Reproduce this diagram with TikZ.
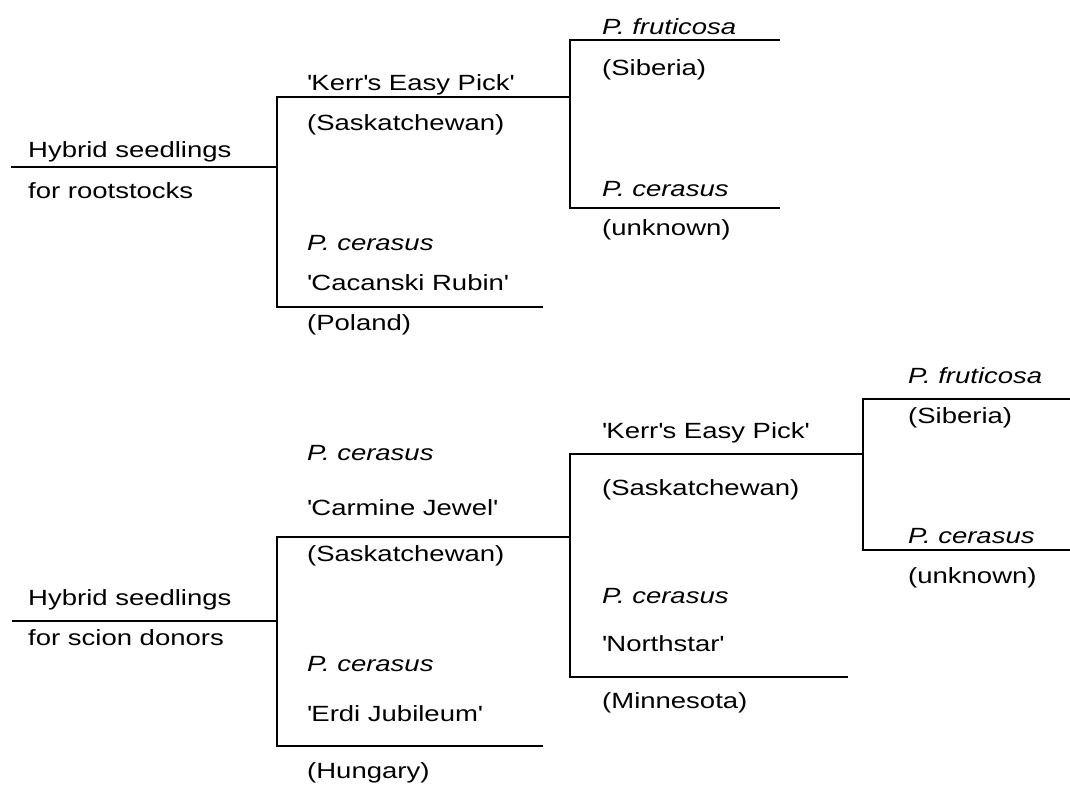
\documentclass[tikz,border=0pt]{standalone}
\usepackage{fontspec}
\setmainfont{Liberation Sans}[FakeStretch=1.25]
\newcommand{\cv}[1]{\textquotesingle#1\textquotesingle}
\begin{document}
\begin{tikzpicture}[x=1pt,y=-1pt,font=\fontsize{22}{26}\selectfont,
    lbl/.style={anchor=west,inner sep=0pt,text height=16pt,text depth=0pt},
    branch/.style={line width=1.3pt}]
    \useasboundingbox (0,0) rectangle (1070,784);
    \coordinate (ra) at (11,167);
    \coordinate (fa) at (277,167);
    \coordinate (ka) at (277,97);
    \coordinate (kae) at (570,97);
    \coordinate (ca) at (277,307);
    \coordinate (cae) at (543,307);
    \coordinate (pa) at (570,40);
    \coordinate (pae) at (780,40);
    \coordinate (ua) at (570,208);
    \coordinate (uae) at (780,208);
    \draw[branch] (ra) -- (fa);
    \draw[branch] (cae) -- (ca) -- (ka) -- (kae);
    \draw[branch] (pae) -- (pa) -- (ua) -- (uae);
    \node[lbl] (ha) at (28,149) {Hybrid seedlings};
    \node[lbl] (hb) at (28,190) {for rootstocks};
    \node[lbl] (kp) at (307,82) {\cv{Kerr\textquotesingle s Easy Pick}};
    \node[lbl] (ks) at (307,122) {(Saskatchewan)};
    \node[lbl] (cp) at (307,242) {\textit{P. cerasus}};
    \node[lbl] (cr) at (307,282) {\cv{Cacanski Rubin}};
    \node[lbl] (cl) at (307,322) {(Poland)};
    \node[lbl] (pf) at (602,27) {\textit{P. fruticosa}};
    \node[lbl] (ps) at (602,67) {(Siberia)};
    \node[lbl] (up) at (602,188) {\textit{P. cerasus}};
    \node[lbl] (uu) at (602,227) {(unknown)};
    \coordinate (rb) at (12,621);
    \coordinate (fb) at (277,621);
    \coordinate (jb) at (277,537);
    \coordinate (jbe) at (570,537);
    \coordinate (eb) at (277,746);
    \coordinate (ebe) at (543,746);
    \coordinate (kb) at (570,454);
    \coordinate (kbe) at (863,454);
    \coordinate (nb) at (570,677);
    \coordinate (nbe) at (848,677);
    \coordinate (pb) at (863,399);
    \coordinate (pbe) at (1070,399);
    \coordinate (ub) at (863,550);
    \coordinate (ube) at (1070,550);
    \draw[branch] (rb) -- (fb);
    \draw[branch] (ebe) -- (eb) -- (jb) -- (jbe);
    \draw[branch] (nbe) -- (nb) -- (kb) -- (kbe);
    \draw[branch] (pbe) -- (pb) -- (ub) -- (ube);
    \node[lbl] (hc) at (28,597) {Hybrid seedlings};
    \node[lbl] (hd) at (28,637) {for scion donors};
    \node[lbl] (jp) at (307,452) {\textit{P. cerasus}};
    \node[lbl] (jc) at (307,507) {\cv{Carmine Jewel}};
    \node[lbl] (js) at (307,553) {(Saskatchewan)};
    \node[lbl] (ep) at (307,663) {\textit{P. cerasus}};
    \node[lbl] (ej) at (307,713) {\cv{Erdi Jubileum}};
    \node[lbl] (eh) at (307,770) {(Hungary)};
    \node[lbl] (kq) at (602,430) {\cv{Kerr\textquotesingle s Easy Pick}};
    \node[lbl] (kt) at (602,487) {(Saskatchewan)};
    \node[lbl] (np) at (602,595) {\textit{P. cerasus}};
    \node[lbl] (nn) at (602,643) {\cv{Northstar}};
    \node[lbl] (nm) at (602,700) {(Minnesota)};
    \node[lbl] (pg) at (908,375) {\textit{P. fruticosa}};
    \node[lbl] (pt) at (908,415) {(Siberia)};
    \node[lbl] (vp) at (908,535) {\textit{P. cerasus}};
    \node[lbl] (vu) at (908,575) {(unknown)};
\end{tikzpicture}
\end{document}
